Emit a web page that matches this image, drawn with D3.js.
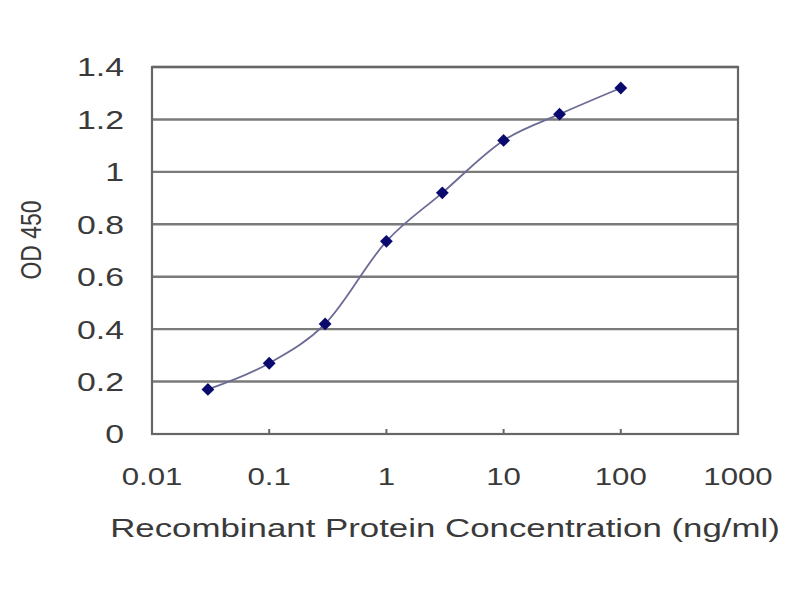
<!DOCTYPE html>
<html><head><meta charset="utf-8">
<script src="https://cdn.jsdelivr.net/npm/d3@7"></script>
<style>body{margin:0;background:#fff;}svg{display:block;}</style>
</head><body>
<svg id="chart" width="800" height="600"></svg>
<script>
const concentrations = [0.03, 0.1, 0.3, 1, 3, 10, 30, 100];
const odValues = [0.17, 0.27, 0.42, 0.735, 0.92, 1.12, 1.22, 1.32];
const xTicks = [0.01, 0.1, 1, 10, 100, 1000];
const xTickLabels = ["0.01", "0.1", "1", "10", "100", "1000"];
const yTicks = [0, 0.2, 0.4, 0.6, 0.8, 1, 1.2, 1.4];
const yTickLabels = ["0", "0.2", "0.4", "0.6", "0.8", "1", "1.2", "1.4"];

const svg = d3.select("#chart");
const L = 152, R = 738, T = 67, B = 434;
const x = d3.scaleLog().domain([0.01, 1000]).range([L, R]);
const y = d3.scaleLinear().domain([0, 1.4]).range([B, T]);
const font = "Liberation Sans, Arial, sans-serif";
const SX = 1.3; // horizontal stretch of the text glyphs
const txtColor = "#3a3a3a";

// gridlines
svg.append("g").selectAll("line").data(yTicks.filter(d => d > 0)).join("line")
  .attr("x1", L).attr("x2", R).attr("y1", d => y(d)).attr("y2", d => y(d))
  .attr("stroke", "#7a7a7a").attr("stroke-width", 2.4);

// plot border
svg.append("rect").attr("x", L).attr("y", T).attr("width", R - L).attr("height", B - T)
  .attr("fill", "none").attr("stroke", "#666").attr("stroke-width", 2.2);

// x axis inward ticks
svg.append("g").selectAll("line").data(xTicks.slice(1, -1)).join("line")
  .attr("x1", d => x(d)).attr("x2", d => x(d)).attr("y1", B).attr("y2", B - 5)
  .attr("stroke", "#666").attr("stroke-width", 2);

// y tick labels
svg.append("g").selectAll("text").data(yTicks).join("text")
  .attr("transform", d => `translate(124,${y(d)}) scale(${SX},1)`)
  .attr("dy", "0.36em")
  .attr("text-anchor", "end").attr("font-family", font).attr("font-size", 26)
  .attr("fill", txtColor).text((d, i) => yTickLabels[i]);

// x tick labels
svg.append("g").selectAll("text").data(xTicks).join("text")
  .attr("transform", d => `translate(${x(d)},485) scale(${SX},1)`)
  .attr("text-anchor", "middle").attr("font-family", font).attr("font-size", 24)
  .attr("fill", txtColor).text((d, i) => xTickLabels[i]);

// axis titles
svg.append("text").attr("transform", `translate(445,537) scale(1.34,1)`)
  .attr("text-anchor", "middle")
  .attr("font-family", font).attr("font-size", 26).attr("fill", txtColor)
  .text("Recombinant Protein Concentration (ng/ml)");
svg.append("text").attr("transform", `translate(41,240) scale(${SX},1) rotate(-90)`)
  .attr("text-anchor", "middle").attr("font-family", font).attr("font-size", 23)
  .attr("fill", txtColor).text("OD 450");

// curve
const pts = concentrations.map((c, i) => [x(c), y(odValues[i])]);
svg.append("path").datum(pts)
  .attr("d", d3.line().curve(d3.curveMonotoneX))
  .attr("fill", "none").attr("stroke", "#6b6b95").attr("stroke-width", 1.8);

// markers
svg.append("g").selectAll("path").data(pts).join("path")
  .attr("transform", d => `translate(${d[0]},${d[1]})`)
  .attr("d", d3.symbol().type(d3.symbolDiamond2).size(105))
  .attr("fill", "#0a0a6e");
</script>
</body></html>
